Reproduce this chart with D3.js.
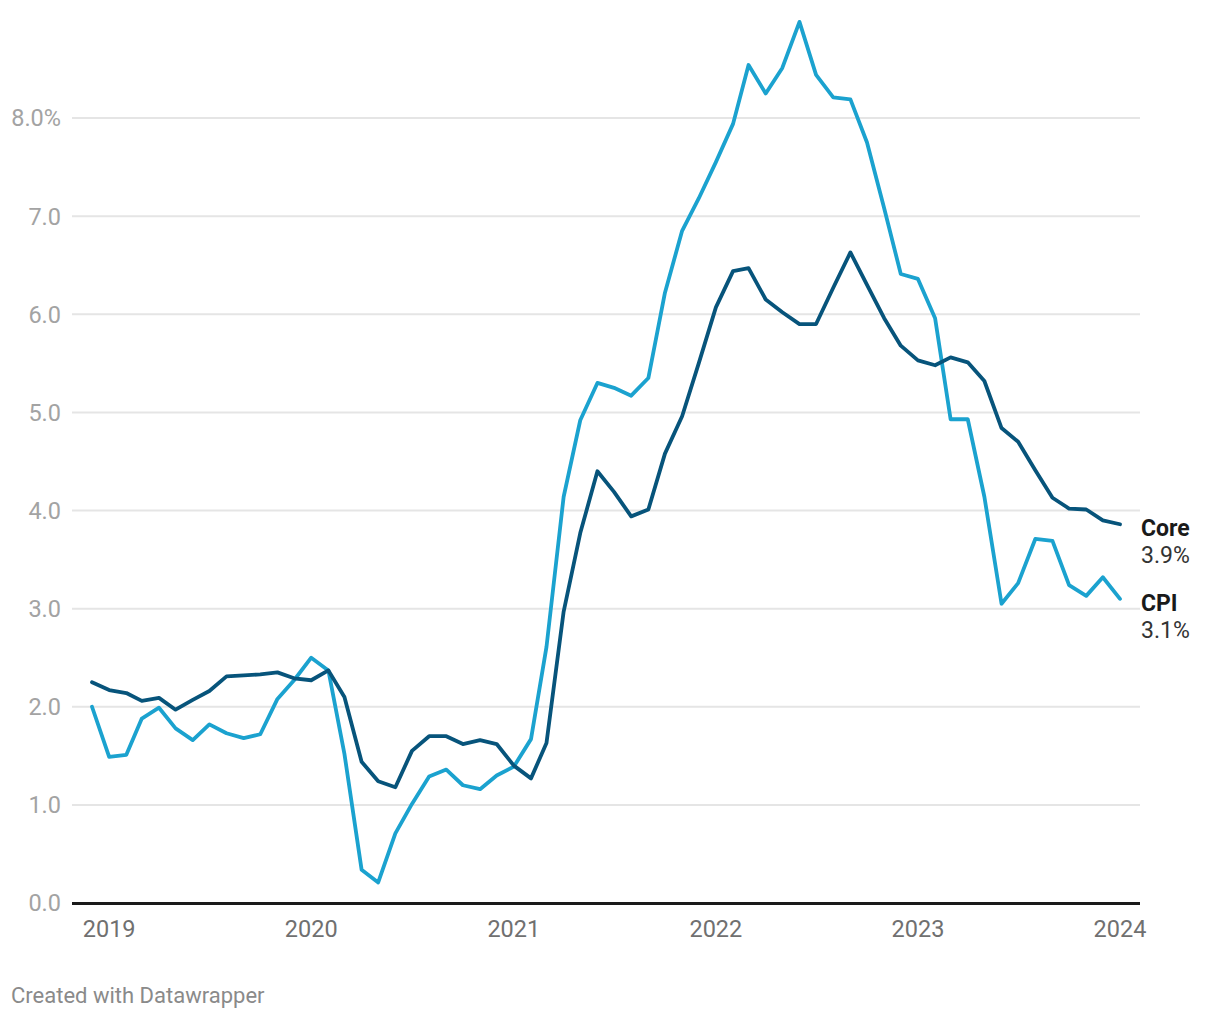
<!DOCTYPE html>
<html>
<head>
<meta charset="utf-8">
<script src="https://cdn.jsdelivr.net/npm/d3@7"></script>
<style>
  html, body { margin: 0; padding: 0; background: #fff; }
  svg { display: block; font-family: Roboto, "Noto Sans", sans-serif; }
</style>
</head>
<body>
<svg id="chart" width="1220" height="1020"></svg>
<script>
// Monthly, Dec 2018 through Jan 2024
const startMonth = "2018-12";
const endMonth = "2024-01";

const cpiValues = [
  2.00,
  1.49, 1.51, 1.88, 1.99, 1.78, 1.66, 1.82, 1.73, 1.68, 1.72, 2.08, 2.27,
  2.50, 2.37, 1.52, 0.34, 0.21, 0.71, 1.01, 1.29, 1.36, 1.20, 1.16, 1.30,
  1.39, 1.67, 2.61, 4.14, 4.92, 5.30, 5.25, 5.17, 5.35, 6.22, 6.85, 7.18,
  7.55, 7.94, 8.54, 8.25, 8.51, 8.98, 8.44, 8.21, 8.19, 7.75, 7.08, 6.41,
  6.36, 5.96, 4.93, 4.93, 4.14, 3.05, 3.26, 3.71, 3.69, 3.24, 3.13, 3.32,
  3.10
];

const coreValues = [
  2.25,
  2.17, 2.14, 2.06, 2.09, 1.97, 2.07, 2.16, 2.31, 2.32, 2.33, 2.35, 2.29,
  2.27, 2.37, 2.10, 1.44, 1.24, 1.18, 1.55, 1.70, 1.70, 1.62, 1.66, 1.62,
  1.40, 1.27, 1.63, 2.97, 3.77, 4.40, 4.19, 3.94, 4.01, 4.58, 4.96, 5.50,
  6.07, 6.44, 6.47, 6.15, 6.02, 5.90, 5.90, 6.27, 6.63, 6.30, 5.96, 5.68,
  5.53, 5.48, 5.56, 5.51, 5.32, 4.84, 4.70, 4.41, 4.13, 4.02, 4.01, 3.90,
  3.86
];

const seriesNames = ["Core", "CPI"];
const seriesEndLabels = ["3.9%", "3.1%"];
const yTicks = [0, 1, 2, 3, 4, 5, 6, 7, 8];
const yTickLabels = ["0.0", "1.0", "2.0", "3.0", "4.0", "5.0", "6.0", "7.0", "8.0%"];
const xTickYears = ["2019", "2020", "2021", "2022", "2023", "2024"];
const credit = "Created with Datawrapper";

const parseMonth = d3.timeParse("%Y-%m");
const months = d3.timeMonth.range(parseMonth(startMonth), d3.timeMonth.offset(parseMonth(endMonth), 1));

const svg = d3.select("#chart");

const x = d3.scaleTime()
  .domain([parseMonth(startMonth), parseMonth(endMonth)])
  .range([92, 1120]);
const y = d3.scaleLinear().domain([0, 8]).range([903, 118]);

const gridLeft = 72, gridRight = 1140;

// gridlines
svg.append("g").selectAll("line")
  .data(yTicks.filter(d => d !== 0))
  .join("line")
  .attr("x1", gridLeft).attr("x2", gridRight)
  .attr("y1", d => y(d)).attr("y2", d => y(d))
  .attr("stroke", "#e5e5e5").attr("stroke-width", 2);

// y labels
svg.append("g").selectAll("text")
  .data(yTicks)
  .join("text")
  .attr("x", 61)
  .attr("y", d => y(d))
  .attr("dy", "0.36em")
  .attr("text-anchor", "end")
  .attr("font-size", 23.5)
  .attr("fill", "#a3a3a3")
  .text((d, i) => yTickLabels[i]);

// baseline
svg.append("line")
  .attr("x1", gridLeft).attr("x2", gridRight)
  .attr("y1", y(0) + 0.5).attr("y2", y(0) + 0.5)
  .attr("stroke", "#1a1a1a").attr("stroke-width", 3);

// x labels
svg.append("g").selectAll("text")
  .data(xTickYears)
  .join("text")
  .attr("x", d => x(d3.timeParse("%Y")(d)))
  .attr("y", 937)
  .attr("text-anchor", "middle")
  .attr("font-size", 23.5)
  .attr("fill", "#707070")
  .text(d => d);

const line = d3.line()
  .x((d, i) => x(months[i]))
  .y(d => y(d));

const seriesValues = [coreValues, cpiValues];
const seriesColors = ["#07547b", "#1ba2cf"];

// draw CPI first then Core on top
[1, 0].forEach(k => {
  svg.append("path")
    .datum(seriesValues[k])
    .attr("d", line)
    .attr("fill", "none")
    .attr("stroke", seriesColors[k])
    .attr("stroke-width", 3.8)
    .attr("stroke-linejoin", "round")
    .attr("stroke-linecap", "round");
});

// end labels
seriesValues.forEach((vals, k) => {
  const last = vals[vals.length - 1];
  const yy = y(last) + 12;
  svg.append("text")
    .attr("x", 1141).attr("y", yy)
    .attr("font-size", 23).attr("font-weight", "bold")
    .attr("fill", "#1a1a1a")
    .text(seriesNames[k]);
  svg.append("text")
    .attr("x", 1141).attr("y", yy + 27)
    .attr("font-size", 23)
    .attr("fill", "#333333")
    .text(seriesEndLabels[k]);
});

// credit
svg.append("text")
  .attr("x", 11).attr("y", 1003)
  .attr("font-size", 22)
  .attr("fill", "#8a8a8a")
  .text(credit);
</script>
</body>
</html>
